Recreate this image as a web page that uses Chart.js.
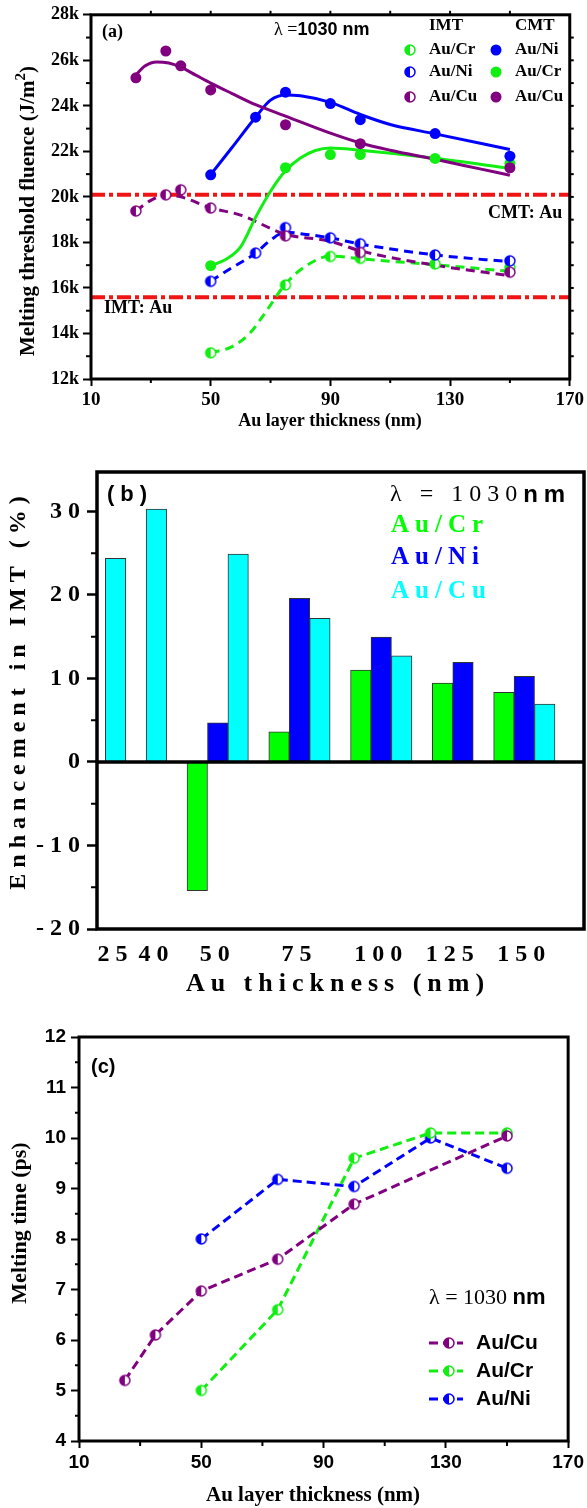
<!DOCTYPE html>
<html>
<head>
<meta charset="utf-8">
<script src="https://cdn.jsdelivr.net/npm/chart.js@4.4.1/dist/chart.umd.min.js"></script>
<style>
  body { margin: 0; background: #fff; }
  canvas { position: absolute; left: 0; }
  #chartA { top: 0; }
  #chartB { top: 440px; }
  #chartC { top: 1010px; }
</style>
</head>
<body>
<canvas id="chartA" width="587" height="440"></canvas>
<canvas id="chartB" width="587" height="570"></canvas>
<canvas id="chartC" width="587" height="498"></canvas>
<script>
var SERIF = "'Liberation Serif', 'Times New Roman', serif";
var SANS = "'Liberation Sans', Arial, sans-serif";
var GREEN = '#11ee11', BLUE = '#0000ff', PURPLE = '#800080', CYAN = '#00ffff', RED = '#f01414';

// (a) melting threshold fluence (J/m^2) vs Au thickness (nm)
var cuX = [25, 35, 40, 50, 75, 100, 150];
var niX = [50, 65, 75, 90, 100, 125, 150];
var crX = [50, 75, 90, 100, 125, 150];
var cmtCu = [25230, 26410, 25760, 24700, 23170, 22340, 21280];
var cmtNi = [20970, 23500, 24600, 24100, 23390, 22780, 21790];
var cmtCr = [16980, 21280, 21860, 21860, 21690, 21470];
var imtCu = [19380, 20090, 20310, 19510, 18290, 17560, 16690];
var imtNi = [16290, 17530, 18650, 18200, 17940, 17450, 17190];
var imtCr = [13150, 16130, 17380, 17300, 17050, 16900];

// fitted curves
var fitCmtCuX = [25, 28, 32, 36, 40, 45, 50, 57, 65, 75, 90, 100, 110, 125, 140, 150];
var fitCmtCu = [25350, 25750, 25930, 25880, 25700, 25350, 25000, 24550, 24050, 23550, 22800, 22370, 22050, 21650, 21230, 20950];
var fitCmtNiX = [50, 57, 65, 70, 75, 80, 90, 100, 110, 125, 150];
var fitCmtNi = [20980, 22150, 23500, 24250, 24480, 24440, 24150, 23620, 23180, 22770, 22080];
var fitCmtCrX = [50, 55, 60, 65, 70, 75, 80, 85, 90, 100, 125, 150];
var fitCmtCr = [16980, 17250, 17800, 19100, 20250, 21150, 21710, 22040, 22150, 22050, 21700, 21250];
var fitImtCuX = [25, 30, 35, 40, 50, 60, 75, 90, 100, 125, 150];
var fitImtCu = [19380, 19850, 20070, 20000, 19520, 19200, 18360, 18050, 17630, 17000, 16540];
var fitImtNiX = [50, 57, 65, 70, 75, 82, 90, 100, 125, 150];
var fitImtNi = [16300, 16880, 17530, 18100, 18450, 18350, 18200, 17930, 17450, 17150];
var fitImtCrX = [50, 57, 63, 68, 75, 82, 90, 100, 125, 150];
var fitImtCr = [13150, 13410, 14000, 14870, 16170, 16980, 17400, 17280, 17020, 16730];

// bulk Au thresholds
var cmtAu = 20090;
var imtAu = 15590;

// (b) enhancement in IMT (%)
var thicknessB = ['25', '40', '50', '75', '100', '125', '150'];
var gainCr = [null, null, -15.4, 3.6, 11.0, 9.45, 8.35];
var gainNi = [null, null, 4.7, 19.6, 14.95, 11.95, 10.25];
var gainCu = [24.4, 30.3, 24.9, 17.2, 12.7, null, 6.95];

// (c) melting time (ps)
var timeCuX = [25, 35, 50, 75, 100, 150];
var timeCu = [5.2, 6.1, 6.97, 7.6, 8.69, 10.04];
var timeX = [50, 75, 100, 125, 150];
var timeCr = [5.0, 6.6, 9.6, 10.1, 10.1];
var timeNi = [8.0, 9.18, 9.04, 10.0, 9.4];

function pts(xs, ys) {
  return xs.map(function (x, i) { return {x: x, y: ys[i]}; });
}

// half filled circle used as point style
function halfDot(color, r) {
  var c = document.createElement('canvas');
  var s = Math.ceil(2 * r + 4);
  c.width = c.height = s;
  var g = c.getContext('2d'), m = s / 2;
  g.beginPath(); g.arc(m, m, r, 0, 2 * Math.PI); g.fillStyle = '#fff'; g.fill();
  g.beginPath(); g.arc(m, m, r, Math.PI / 2, 3 * Math.PI / 2); g.closePath();
  g.fillStyle = color; g.fill();
  g.beginPath(); g.arc(m, m, r, 0, 2 * Math.PI);
  g.lineWidth = 1.5; g.strokeStyle = color; g.stroke();
  return c;
}

function drawRuns(ctx, t) {
  var runs = t.runs || [{t: t.text, f: t.font, c: t.color}];
  ctx.save();
  ctx.translate(t.x, t.y);
  if (t.rot) ctx.rotate(t.rot);
  ctx.textBaseline = 'middle';
  ctx.textAlign = 'left';
  var w = 0;
  runs.forEach(function (r) { ctx.font = r.f; w += ctx.measureText(r.t).width; });
  var x = t.align === 'center' ? -w / 2 : 0;
  runs.forEach(function (r) {
    ctx.font = r.f;
    ctx.fillStyle = r.c || '#000';
    ctx.fillText(r.t, x, r.dy || 0);
    x += ctx.measureText(r.t).width;
  });
  ctx.restore();
}

// frame, minor ticks, zero line, legend symbols and free text
function decor(cfg) {
  return {
    id: 'decor',
    beforeDraw: function (chart) {
      if (cfg.spacing) chart.ctx.letterSpacing = cfg.spacing;
    },
    afterDraw: function (chart) {
      var ctx = chart.ctx, a = chart.chartArea, scales = chart.scales;
      ctx.save();
      ctx.strokeStyle = '#000';
      if (cfg.zero) {
        var z = scales.y.getPixelForValue(0);
        ctx.lineWidth = cfg.zero;
        ctx.beginPath(); ctx.moveTo(a.left, z); ctx.lineTo(a.right, z); ctx.stroke();
      }
      ctx.lineWidth = cfg.frame;
      ctx.strokeRect(a.left, a.top, a.right - a.left, a.bottom - a.top);
      (cfg.ticks || []).forEach(function (t) {
        var s = scales[t.axis];
        ctx.lineWidth = 2;
        t.values.forEach(function (v) {
          var p = s.getPixelForValue(v);
          ctx.beginPath();
          if (t.side === 'left') { ctx.moveTo(a.left - t.len, p); ctx.lineTo(a.left, p); }
          if (t.side === 'right') { ctx.moveTo(a.right, p); ctx.lineTo(a.right + t.len, p); }
          if (t.side === 'bottom') { ctx.moveTo(p, a.bottom); ctx.lineTo(p, a.bottom + t.len); }
          if (t.side === 'top') { ctx.moveTo(p, a.top - t.len); ctx.lineTo(p, a.top); }
          ctx.stroke();
        });
      });
      (cfg.marks || []).forEach(function (m) {
        if (m.line) {
          ctx.save();
          ctx.strokeStyle = m.color; ctx.lineWidth = 3; ctx.setLineDash(m.dash);
          ctx.beginPath(); ctx.moveTo(m.x1, m.y); ctx.lineTo(m.x2, m.y); ctx.stroke();
          ctx.restore();
        }
        if (m.img) ctx.drawImage(m.img, m.x - m.img.width / 2, m.y - m.img.height / 2);
        if (m.dot) {
          ctx.fillStyle = m.color;
          ctx.beginPath(); ctx.arc(m.x, m.y, m.dot, 0, 2 * Math.PI); ctx.fill();
        }
      });
      (cfg.texts || []).forEach(function (t) { drawRuns(ctx, t); });
      ctx.restore();
    }
  };
}

function range(from, to, step) {
  var out = [];
  for (var v = from; v <= to + 1e-9; v += step) out.push(v);
  return out;
}

// ---------- (a) ----------
var halfA = {cr: halfDot(GREEN, 5), ni: halfDot(BLUE, 5), cu: halfDot(PURPLE, 5)};

function fitLine(xs, ys, color, dash) {
  return {data: pts(xs, ys), showLine: true, borderColor: color, borderWidth: 3,
    borderDash: dash || [], pointRadius: 0, cubicInterpolationMode: 'monotone', order: 2};
}
function refLine(v) {
  return {data: [{x: 10, y: v}, {x: 170, y: v}], showLine: true, borderColor: RED,
    borderWidth: 4, borderDash: [14, 4, 4, 4], pointRadius: 0, order: 3};
}
function solidMarks(xs, ys, color) {
  return {data: pts(xs, ys), showLine: false, pointStyle: 'circle', pointRadius: 5.5,
    backgroundColor: color, borderWidth: 0, order: 0};
}
function halfMarks(xs, ys, img) {
  return {data: pts(xs, ys), showLine: false, pointStyle: img, pointRadius: 5, order: 0};
}

var serifB = function (size) { return {family: SERIF, weight: 'bold', size: size}; };
var sansB = function (size) { return {family: SANS, weight: 'bold', size: size}; };

new Chart(document.getElementById('chartA'), {
  type: 'scatter',
  data: {
    datasets: [
      refLine(cmtAu), refLine(imtAu),
      fitLine(fitCmtCuX, fitCmtCu, PURPLE),
      fitLine(fitCmtNiX, fitCmtNi, BLUE),
      fitLine(fitCmtCrX, fitCmtCr, GREEN),
      fitLine(fitImtCuX, fitImtCu, PURPLE, [9, 6]),
      fitLine(fitImtNiX, fitImtNi, BLUE, [9, 6]),
      fitLine(fitImtCrX, fitImtCr, GREEN, [9, 6]),
      solidMarks(cuX, cmtCu, PURPLE),
      solidMarks(niX, cmtNi, BLUE),
      solidMarks(crX, cmtCr, GREEN),
      halfMarks(cuX, imtCu, halfA.cu),
      halfMarks(niX, imtNi, halfA.ni),
      halfMarks(crX, imtCr, halfA.cr)
    ]
  },
  options: {
    responsive: false, animation: false, events: [],
    layout: {padding: {top: 13, right: 17, left: 0, bottom: 0}},
    plugins: {legend: {display: false}, tooltip: {enabled: false}},
    scales: {
      x: {
        type: 'linear', min: 10, max: 170,
        ticks: {stepSize: 40, font: serifB(19), color: '#000', padding: 3, maxRotation: 0},
        grid: {drawOnChartArea: false, tickLength: 7, tickWidth: 2, tickColor: '#000'},
        border: {display: false},
        afterFit: function (s) { s.height = 61; }
      },
      y: {
        min: 12000, max: 28000,
        ticks: {stepSize: 2000, font: serifB(18), color: '#000', padding: 4,
          callback: function (v) { return (v / 1000) + 'k'; }},
        grid: {drawOnChartArea: false, tickLength: 8, tickWidth: 2, tickColor: '#000'},
        border: {display: false},
        afterFit: function (s) { s.width = 91; }
      }
    }
  },
  plugins: [decor({
    frame: 3,
    ticks: [
      {axis: 'x', side: 'bottom', len: 4, values: [30, 70, 110, 150]},
      {axis: 'x', side: 'top', len: 4, values: range(30, 150, 20)},
      {axis: 'y', side: 'left', len: 5, values: range(13000, 27000, 2000)},
      {axis: 'y', side: 'right', len: 4, values: range(13000, 27000, 1000)}
    ],
    marks: [
      {img: halfA.cr, x: 410, y: 50}, {img: halfA.ni, x: 410, y: 72}, {img: halfA.cu, x: 410, y: 97},
      {dot: 5.5, color: BLUE, x: 496, y: 50}, {dot: 5.5, color: GREEN, x: 496, y: 72},
      {dot: 5.5, color: PURPLE, x: 496, y: 97}
    ],
    texts: [
      {text: '(a)', font: 'bold 18px ' + SERIF, x: 102, y: 32},
      {runs: [{t: 'λ =', f: '18px ' + SERIF}, {t: '1030 nm', f: 'bold 18px ' + SANS}], x: 274, y: 30},
      {text: 'IMT', font: 'bold 17px ' + SERIF, x: 429, y: 26},
      {text: 'CMT', font: 'bold 17px ' + SERIF, x: 515, y: 26},
      {text: 'Au/Cr', font: 'bold 17px ' + SERIF, x: 429, y: 50},
      {text: 'Au/Ni', font: 'bold 17px ' + SERIF, x: 429, y: 72},
      {text: 'Au/Cu', font: 'bold 17px ' + SERIF, x: 429, y: 97},
      {text: 'Au/Ni', font: 'bold 17px ' + SERIF, x: 515, y: 50},
      {text: 'Au/Cr', font: 'bold 17px ' + SERIF, x: 515, y: 72},
      {text: 'Au/Cu', font: 'bold 17px ' + SERIF, x: 515, y: 97},
      {text: 'CMT: Au', font: 'bold 18px ' + SERIF, x: 488, y: 213},
      {text: 'IMT: Au', font: 'bold 18px ' + SERIF, x: 104, y: 308},
      {text: 'Au layer thickness (nm)', font: 'bold 18px ' + SERIF, x: 330, y: 421, align: 'center'},
      {runs: [{t: 'Melting threshold fluence (J/m', f: 'bold 21px ' + SERIF},
              {t: '2', f: 'bold 15px ' + SERIF, dy: -8},
              {t: ')', f: 'bold 21px ' + SERIF}],
       x: 29, y: 211, rot: -Math.PI / 2, align: 'center'}
    ]
  })]
});

// ---------- (b) ----------
// start slot of each thickness group on the bar grid; Cr, Ni, Cu take consecutive slots
var groupStart = [-2, 0, 4, 8, 12, 16, 19];
function barSeries(vals, k) {
  var out = [];
  vals.forEach(function (v, i) {
    if (v !== null) out.push({x: groupStart[i] + k + 0.5, y: v});
  });
  return out;
}
var tickSlots = thicknessB.map(function (t, i) {
  var xs = [];
  [gainCr, gainNi, gainCu].forEach(function (s, k) {
    if (s[i] !== null) xs.push(groupStart[i] + k + 0.5);
  });
  return xs.reduce(function (a, b) { return a + b; }, 0) / xs.length;
});

function barSet(label, vals, k, color) {
  return {label: label, data: barSeries(vals, k), backgroundColor: color, borderColor: '#333',
    borderWidth: 1, barThickness: 20.45, grouped: false};
}

new Chart(document.getElementById('chartB'), {
  type: 'bar',
  data: {
    datasets: [
      barSet('Au/Cr', gainCr, 0, '#00ff00'),
      barSet('Au/Ni', gainNi, 1, BLUE),
      barSet('Au/Cu', gainCu, 2, CYAN)
    ]
  },
  options: {
    responsive: false, animation: false, events: [],
    layout: {padding: {top: 32, right: 3, left: 0, bottom: 0}},
    plugins: {legend: {display: false}, tooltip: {enabled: false}},
    scales: {
      x: {
        type: 'linear', min: -0.406, max: 23.42, offset: false,
        grid: {display: false}, border: {display: false},
        afterBuildTicks: function (s) { s.ticks = tickSlots.map(function (v) { return {value: v}; }); },
        ticks: {autoSkip: false, maxRotation: 0, font: serifB(24), color: '#000', padding: 3,
          callback: function (v, i) { return thicknessB[i]; }},
        afterFit: function (s) { s.height = 81; }
      },
      y: {
        min: -20, max: 34.73,
        afterBuildTicks: function (s) {
          s.ticks = [-20, -10, 0, 10, 20, 30].map(function (v) { return {value: v}; });
        },
        ticks: {font: serifB(24), color: '#000', padding: 1},
        grid: {drawOnChartArea: false, tickLength: 10, tickWidth: 2.5, tickColor: '#000'},
        border: {display: false},
        afterFit: function (s) { s.width = 97; }
      }
    }
  },
  plugins: [decor({
    frame: 3.5, zero: 3.5, spacing: '6px',
    ticks: [{axis: 'y', side: 'left', len: 6, values: [-15, -5, 5, 15, 25]}],
    texts: [
      {text: '(b)', font: 'bold 22px ' + SANS, x: 107, y: 55},
      {runs: [{t: 'λ = 1030', f: '24px ' + SERIF}, {t: 'nm', f: 'bold 24px ' + SANS}], x: 390, y: 55},
      {text: 'Au/Cr', font: 'bold 25px ' + SERIF, color: '#00ff00', x: 391, y: 86},
      {text: 'Au/Ni', font: 'bold 25px ' + SERIF, color: BLUE, x: 391, y: 118},
      {text: 'Au/Cu', font: 'bold 25px ' + SERIF, color: CYAN, x: 391, y: 152},
      {text: 'Au thickness (nm)', font: 'bold 26px ' + SERIF, x: 338, y: 544, align: 'center'},
      {text: 'Enhancement in IMT (%)', font: 'bold 24px ' + SERIF, x: 19, y: 250,
       rot: -Math.PI / 2, align: 'center'}
    ]
  })]
});

// ---------- (c) ----------
var halfC = {cu: halfDot(PURPLE, 5), cr: halfDot(GREEN, 5), ni: halfDot(BLUE, 5)};
function timeLine(xs, ys, color, img) {
  return {data: pts(xs, ys), showLine: true, borderColor: color, borderWidth: 3,
    borderDash: [9, 5], tension: 0, pointStyle: img, pointRadius: 5};
}

new Chart(document.getElementById('chartC'), {
  type: 'scatter',
  data: {
    datasets: [
      timeLine(timeCuX, timeCu, PURPLE, halfC.cu),
      timeLine(timeX, timeCr, GREEN, halfC.cr),
      timeLine(timeX, timeNi, BLUE, halfC.ni)
    ]
  },
  options: {
    responsive: false, animation: false, events: [],
    layout: {padding: {top: 27, right: 17, left: 0, bottom: 0}},
    plugins: {legend: {display: false}, tooltip: {enabled: false}},
    scales: {
      x: {
        type: 'linear', min: 10, max: 170,
        ticks: {stepSize: 40, font: sansB(19), color: '#000', padding: 3, maxRotation: 0},
        grid: {drawOnChartArea: false, tickLength: 7, tickWidth: 2, tickColor: '#000'},
        border: {display: false},
        afterFit: function (s) { s.height = 67; }
      },
      y: {
        min: 4, max: 12,
        ticks: {stepSize: 1, font: sansB(19), color: '#000', padding: 5},
        grid: {drawOnChartArea: false, tickLength: 8, tickWidth: 2, tickColor: '#000'},
        border: {display: false},
        afterFit: function (s) { s.width = 79; }
      }
    }
  },
  plugins: [decor({
    frame: 3,
    ticks: [
      {axis: 'x', side: 'bottom', len: 5, values: [30, 70, 110, 150]},
      {axis: 'y', side: 'left', len: 4, values: range(4.5, 11.5, 1)}
    ],
    marks: [
      {line: true, color: PURPLE, dash: [9, 5], x1: 429, x2: 463, y: 333}, {img: halfC.cu, x: 449, y: 333},
      {line: true, color: GREEN, dash: [9, 5], x1: 429, x2: 463, y: 361}, {img: halfC.cr, x: 449, y: 361},
      {line: true, color: BLUE, dash: [9, 5], x1: 429, x2: 463, y: 389}, {img: halfC.ni, x: 449, y: 389}
    ],
    texts: [
      {text: '(c)', font: 'bold 20px ' + SANS, x: 91, y: 57},
      {runs: [{t: 'λ = 1030 ', f: '22px ' + SERIF}, {t: 'nm', f: 'bold 22px ' + SANS}], x: 429, y: 288},
      {text: 'Au/Cu', font: 'bold 21px ' + SANS, x: 476, y: 333},
      {text: 'Au/Cr', font: 'bold 21px ' + SANS, x: 476, y: 361},
      {text: 'Au/Ni', font: 'bold 21px ' + SANS, x: 476, y: 389},
      {text: 'Au layer thickness (nm)', font: 'bold 21px ' + SERIF, x: 313, y: 486, align: 'center'},
      {text: 'Melting time (ps)', font: 'bold 22px ' + SERIF, x: 20, y: 213,
       rot: -Math.PI / 2, align: 'center'}
    ]
  })]
});
</script>
</body>
</html>
